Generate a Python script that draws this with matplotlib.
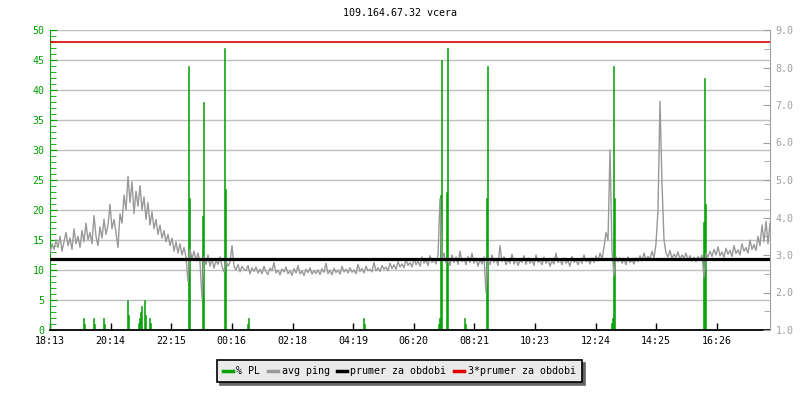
import matplotlib
matplotlib.use('Agg')
import matplotlib.pyplot as plt
from matplotlib.lines import Line2D
from matplotlib.ticker import MultipleLocator, FormatStrFormatter
import numpy as np

# ── Data ──────────────────────────────────────────────────────────────────────
TITLE = '109.164.67.32 vcera'
START = '18:13'
SPAN_MIN = 1440
TICK_LABELS = ['18:13', '20:14', '22:15', '00:16', '02:18', '04:19',
               '06:20', '08:21', '10:23', '12:24', '14:25', '16:26']

# avg ping [ms], one sample every 4 minutes from 18:13 (one row = 1 hour)
PING_STEP_MIN = 4
ping_ms = [
    3.05, 3.30, 3.15, 3.40, 3.20, 3.50, 3.10, 3.35, 3.60, 3.25, 3.45, 3.15, 3.70, 3.30, 3.50,
    3.20, 3.65, 3.35, 3.85, 3.40, 3.60, 3.30, 4.05, 3.50, 3.25, 3.75, 3.45, 3.95, 3.55, 3.80,
    4.35, 3.70, 3.95, 3.60, 3.20, 4.10, 3.85, 4.60, 4.20, 5.10, 4.40, 4.95, 4.10, 4.70, 4.30,
    4.85, 4.20, 4.55, 3.95, 4.40, 3.80, 4.15, 3.70, 3.95, 3.55, 3.80, 3.45, 3.65, 3.35, 3.55,
    3.25, 3.45, 3.10, 3.35, 3.05, 3.30, 3.00, 3.20, 2.95, 2.30, 3.15, 2.90, 3.10, 2.85, 3.05,
    2.80, 1.85, 2.95, 2.75, 3.00, 2.70, 2.90, 2.65, 2.85, 2.75, 2.95, 2.70, 2.55, 2.85, 2.70,
    2.80, 3.25, 2.70, 2.60, 2.75, 2.55, 2.70, 2.62, 2.58, 2.72, 2.50, 2.66, 2.56, 2.68, 2.52,
    2.62, 2.50, 2.70, 2.55, 2.48, 2.65, 2.58, 2.80, 2.52, 2.60, 2.47, 2.63, 2.55, 2.68, 2.50,
    2.58, 2.46, 2.64, 2.52, 2.72, 2.50, 2.57, 2.45, 2.62, 2.53, 2.66, 2.49, 2.58, 2.51, 2.60,
    2.48, 2.63, 2.54, 2.78, 2.50, 2.59, 2.47, 2.65, 2.53, 2.60, 2.49, 2.70, 2.55, 2.62, 2.52,
    2.66, 2.54, 2.60, 2.50, 2.75, 2.56, 2.64, 2.52, 2.70, 2.58, 2.62, 2.55, 2.80, 2.58, 2.66,
    2.56, 2.72, 2.62, 2.68, 2.58, 2.78, 2.64, 2.74, 2.62, 2.82, 2.68, 2.76, 2.66, 2.88, 2.72,
    2.80, 2.68, 2.90, 2.74, 2.84, 2.70, 2.95, 2.78, 2.86, 2.72, 2.98, 2.80, 2.88, 2.76, 3.00,
    4.50, 2.85, 3.05, 2.78, 2.92, 2.72, 3.00, 2.80, 2.95, 2.75, 3.10, 2.82, 2.90, 2.74, 2.96,
    2.80, 3.05, 2.78, 2.92, 2.70, 2.88, 2.76, 2.95, 2.00, 2.85, 2.74, 3.00, 2.80, 2.90, 2.72,
    3.25, 2.82, 2.95, 2.74, 2.88, 2.78, 3.02, 2.76, 2.90, 2.72, 2.86, 2.80, 2.98, 2.75, 2.92,
    2.78, 2.88, 2.72, 3.00, 2.80, 2.86, 2.74, 2.94, 2.78, 2.90, 2.70, 2.84, 2.76, 3.05, 2.80,
    2.88, 2.74, 2.92, 2.78, 2.84, 2.70, 2.96, 2.80, 2.86, 2.74, 2.90, 2.78, 3.00, 2.82, 2.88,
    2.76, 2.92, 2.80, 2.98, 2.84, 3.05, 2.90, 3.20, 3.60, 3.40, 5.80, 3.10, 2.45, 2.95, 2.82,
    2.92, 2.78, 2.88, 2.74, 2.95, 2.80, 2.86, 2.76, 2.92, 2.82, 2.98, 2.84, 3.05, 2.88, 2.96,
    2.90, 3.10, 2.92, 3.30, 4.20, 7.10, 4.90, 3.40, 3.05, 2.95, 3.12, 2.90, 3.02, 2.94, 3.08,
    2.88, 3.00, 2.92, 3.05, 2.86, 2.98, 2.84, 2.94, 2.82, 2.96, 2.86, 3.00, 2.40, 3.05, 2.95,
    3.10, 2.96, 3.15, 3.00, 3.22, 2.98, 3.08, 2.94, 3.18, 3.02, 3.12, 2.96, 3.25, 3.04, 3.14,
    3.00, 3.30, 3.10, 3.20, 3.05, 3.40, 3.15, 3.28, 3.12, 3.50, 3.25, 3.80, 3.35, 3.90, 3.30,
    3.85,
]

# packet loss [%]: minute offset from 18:13 and value
pl_min = [65, 67, 85, 87, 105, 107, 153, 155, 175, 177, 179, 181, 187, 189,
          197, 199, 275, 277, 303, 305, 347, 349, 393, 395, 626, 628,
          775, 777, 779, 781, 791, 793, 827, 829, 871, 873,
          1121, 1123, 1126, 1128, 1305, 1307, 1309]
pl_pct = [2, 1, 2, 1, 2, 1, 5, 2.5, 1.2, 2, 3, 4, 5, 2.5,
          2, 1.2, 44, 22, 19, 38, 47, 23.5, 1, 2, 2, 1,
          1, 2, 22.5, 45, 23, 47, 2, 1, 22, 44,
          1.2, 2, 44, 22, 18, 42, 21]

mean_ms = 2.89          # prumer za obdobi
mean3_ms = 3 * mean_ms  # 3*prumer za obdobi

# ── Style ─────────────────────────────────────────────────────────────────────
GREEN = '#00a000'
GRAY = '#999999'
AXGRAY = '#a0a0a0'
RED = '#e00000'
FONT = 'DejaVu Sans Mono'
FS = 7.2
plt.rcParams['font.family'] = FONT


def _offset(label):
    h0, m0 = map(int, START.split(':'))
    h, m = map(int, label.split(':'))
    return ((h * 60 + m) - (h0 * 60 + m0)) % 1440


fig = plt.figure(figsize=(8, 4), dpi=100)
ax = fig.add_axes([50 / 800, 70 / 400, 720 / 800, 300 / 400])
ax2 = ax.twinx()

# packet loss bars (left axis)
ax.bar(pl_min, pl_pct, width=2.2, align='edge', color=GREEN,
       edgecolor=GREEN, linewidth=0.4, zorder=2)
ax.set_xlim(0, SPAN_MIN)
ax.set_ylim(0, 50)
ax.yaxis.set_major_locator(MultipleLocator(5))
ax.yaxis.set_minor_locator(MultipleLocator(1))
for y in range(5, 51, 5):
    ax.axhline(y, color='#c0c0c0', lw=1, zorder=1)

# avg ping (right axis)
t_ping = np.arange(len(ping_ms)) * PING_STEP_MIN
ax2.plot(t_ping, ping_ms, color=GRAY, lw=1, zorder=3)
ax2.axhline(mean_ms, color='black', lw=2.3, zorder=4)
ax2.axhline(mean3_ms, color=RED, lw=1.2, zorder=4)
ax2.set_ylim(1, 9)
ax2.yaxis.set_major_locator(MultipleLocator(1))
ax2.yaxis.set_minor_locator(MultipleLocator(0.5))
ax2.yaxis.set_major_formatter(FormatStrFormatter('%.1f'))

# x ticks
ax.set_xticks([_offset(l) for l in TICK_LABELS])
ax.set_xticklabels(TICK_LABELS)

for a in (ax, ax2):
    a.spines['top'].set_visible(False)
    a.set_facecolor('none')
ax.spines['left'].set_color(GREEN)
ax.spines['bottom'].set_color('black')
ax.spines['bottom'].set_linewidth(1.3)
ax.spines['right'].set_visible(False)
ax2.spines['left'].set_visible(False)
ax2.spines['bottom'].set_visible(False)
ax2.spines['right'].set_color(AXGRAY)

ax.tick_params(axis='x', direction='in', length=5, width=1, colors='black',
               labelsize=FS, pad=4)
ax.tick_params(axis='y', which='both', direction='in', colors=GREEN,
               labelsize=FS, pad=4)
ax.tick_params(axis='y', which='major', length=5)
ax.tick_params(axis='y', which='minor', length=4)
ax2.tick_params(axis='y', which='both', direction='in', colors=AXGRAY,
                labelsize=FS, pad=4)
ax2.tick_params(axis='y', which='major', length=5)
ax2.tick_params(axis='y', which='minor', length=4)

fig.text(0.5, 1 - 13 / 400, TITLE, ha='center', va='center', fontsize=FS,
         color='black')

handles = [Line2D([], [], color=GREEN, lw=2.5),
           Line2D([], [], color=GRAY, lw=2.5),
           Line2D([], [], color='black', lw=2.5),
           Line2D([], [], color=RED, lw=2.5)]
labels = ['% PL', 'avg ping', 'prumer za obdobi', '3*prumer za obdobi']
leg = fig.legend(handles, labels, loc='center', ncol=4,
                 bbox_to_anchor=(399 / 800, 1 - 371 / 400), fontsize=FS,
                 frameon=True, fancybox=False, edgecolor='black',
                 facecolor='#eaeaea', framealpha=1, handlelength=1.0,
                 handletextpad=0.4, columnspacing=0.7, borderpad=0.6,
                 borderaxespad=0,
                 shadow={'facecolor': '#666666', 'edgecolor': '#666666',
                         'alpha': 1, 'ox': 2.5, 'oy': -2.5})
leg.get_frame().set_linewidth(1.2)

fig.savefig('out.png', dpi=100)
